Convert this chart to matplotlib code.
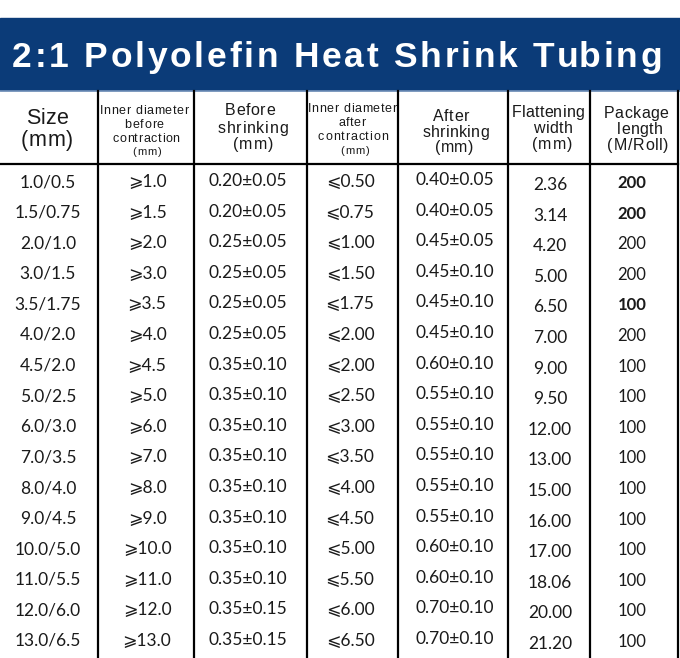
import matplotlib.pyplot as plt
from matplotlib.font_manager import FontProperties

# table data
sizes = ['1.0/0.5', '1.5/0.75', '2.0/1.0', '3.0/1.5', '3.5/1.75', '4.0/2.0', '4.5/2.0', '5.0/2.5',
         '6.0/3.0', '7.0/3.5', '8.0/4.0', '9.0/4.5', '10.0/5.0', '11.0/5.5', '12.0/6.0', '13.0/6.5']
id_before = ['1.0', '1.5', '2.0', '3.0', '3.5', '4.0', '4.5', '5.0',
             '6.0', '7.0', '8.0', '9.0', '10.0', '11.0', '12.0', '13.0']
wall_before = ['0.20±0.05', '0.20±0.05', '0.25±0.05', '0.25±0.05', '0.25±0.05', '0.25±0.05',
               '0.35±0.10', '0.35±0.10', '0.35±0.10', '0.35±0.10', '0.35±0.10', '0.35±0.10',
               '0.35±0.10', '0.35±0.10', '0.35±0.15', '0.35±0.15']
id_after = ['0.50', '0.75', '1.00', '1.50', '1.75', '2.00', '2.00', '2.50',
            '3.00', '3.50', '4.00', '4.50', '5.00', '5.50', '6.00', '6.50']
wall_after = ['0.40±0.05', '0.40±0.05', '0.45±0.05', '0.45±0.10', '0.45±0.10', '0.45±0.10',
              '0.60±0.10', '0.55±0.10', '0.55±0.10', '0.55±0.10', '0.55±0.10', '0.55±0.10',
              '0.60±0.10', '0.60±0.10', '0.70±0.10', '0.70±0.10']
flat_width = ['2.36', '3.14', '4.20', '5.00', '6.50', '7.00', '9.00', '9.50',
              '12.00', '13.00', '15.00', '16.00', '17.00', '18.06', '20.00', '21.20']
pkg_len = ['200', '200', '200', '200', '100', '200', '100', '100',
           '100', '100', '100', '100', '100', '100', '100', '100']
pkg_bold = [True, True, False, False, True, False, False, False,
            False, False, False, False, False, False, False, False]

title = '2:1 Polyolefin Heat Shrink Tubing'
navy = '#0b3b78'

W, H = 680, 658
fig = plt.figure(figsize=(W / 100, H / 100), dpi=100)
ax = fig.add_axes([0, 0, 1, 1])
ax.set_xlim(0, W)
ax.set_ylim(H, 0)
ax.axis('off')
renderer = fig.canvas.get_renderer()


def text_w(s, fp):
    w, h, d = renderer.get_text_width_height_descent(s, fp, ismath=False)
    return w


def spaced(cx, base, s, width, size, weight='normal', color='#1a1a1a'):
    # draw one line of letter-spaced text, centered on cx, stretched to width px
    fp = FontProperties(family='Liberation Sans', size=size, weight=weight)
    natural = text_w(s, fp)
    sp = (width - natural) / max(len(s) - 1, 1)
    x0 = cx - width / 2
    hw = text_w('H', fp)
    for i, ch in enumerate(s):
        if ch == ' ':
            continue
        left = text_w(s[:i] + 'H', fp) - hw + i * sp
        ax.text(x0 + left, base, ch, ha='left', va='baseline', fontproperties=fp,
                color=color, zorder=3)


# banner
ax.add_patch(plt.Rectangle((0, 18), W, 72, color=navy, zorder=1))
ax.axhline(90.5, color='#6f8fb8', lw=1.2, zorder=2)
spaced(337, 67, title, 650, 25.5, weight='bold', color='white')

# grid lines
col_edges = [98, 194, 307, 398, 508, 590, 678]
for x in col_edges:
    ax.plot([x, x], [91, H], color='black', lw=1.6, zorder=2)
ax.plot([0, 678], [164, 164], color='black', lw=1.6, zorder=2)

# header lines: (center x, baseline y, text, width px, font size)
header = [
    (47, 124, 'Size', 42, 15.5), (47, 146, '(mm)', 52, 15.5),
    (144, 114, 'Inner diameter', 89, 9), (144, 128, 'before', 39, 9),
    (146, 142, 'contraction', 67, 9), (147, 155, '(mm)', 30, 8),
    (250, 115, 'Before', 50, 11.5), (253, 133, 'shrinking', 70, 11.5), (253, 149, '(mm)', 40, 11.5),
    (352, 112, 'Inner diameter', 89, 9), (352, 126, 'after', 27, 9),
    (353, 140, 'contraction', 70, 9), (355, 154, '(mm)', 30, 8),
    (451, 121, 'After', 37, 11.5), (456, 137, 'shrinking', 66, 11.5), (454, 152, '(mm)', 38, 11.5),
    (548, 117, 'Flattening', 73, 11.5), (553, 133, 'width', 39, 11.5), (552, 149, '(mm)', 40, 11.5),
    (636, 118, 'Package', 65, 11.5), (640, 134, 'length', 46, 11.5), (638, 150, '(M/Roll)', 61, 11.5),
]
for cx, base, s, w, size in header:
    spaced(cx, base, s, w, size)

# body
dfont = ['Lato', 'DejaVu Sans']
centers = [48, 147, 248, 350, 455, 550, 632]
row0, step = 182, 30.6
cols = [sizes, ['⩾' + v for v in id_before], wall_before, ['⩽' + v for v in id_after],
        wall_after, flat_width]
offsets = [0, 0, -1, 0, -2, 3]
for i in range(len(sizes)):
    y = row0 + i * step
    for c, vals in enumerate(cols):
        ax.text(centers[c], y + offsets[c], vals[i], fontsize=12.5, family=dfont,
                ha='center', va='center', color='#1a1a1a')
    ax.text(centers[6], y + 1, pkg_len[i], fontsize=12, family=dfont, ha='center',
            va='center', color='#1a1a1a', fontweight='bold' if pkg_bold[i] else 'normal')

fig.savefig('out.png', dpi=100)
